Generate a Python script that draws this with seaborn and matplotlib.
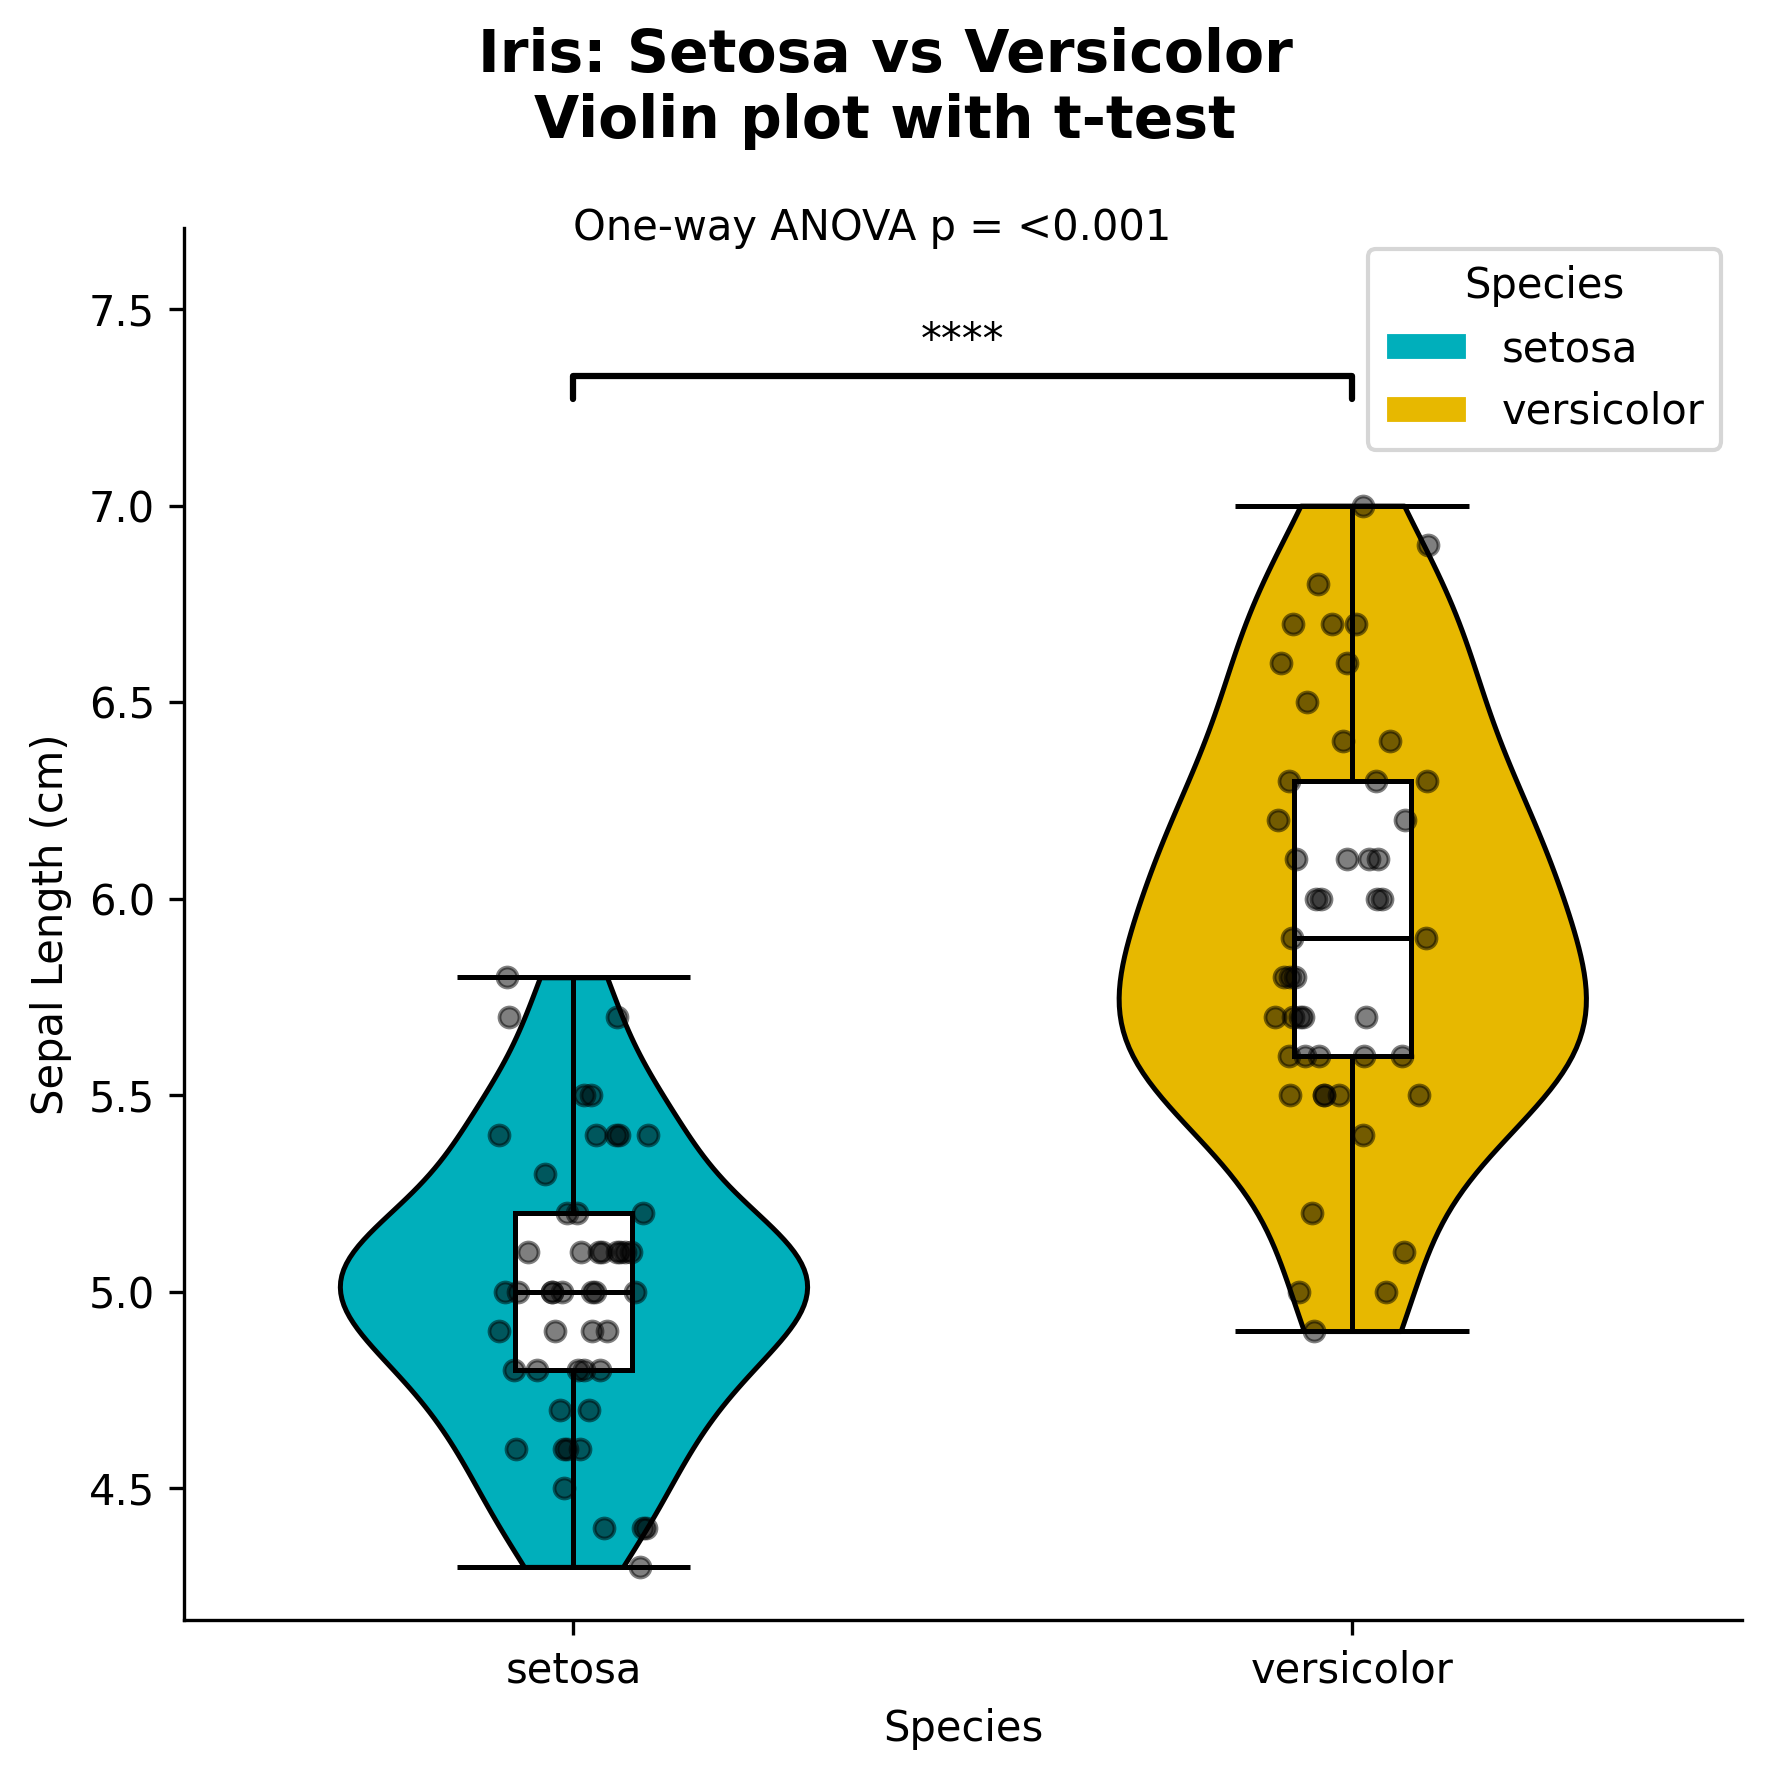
import numpy as np
import pandas as pd
import seaborn as sns
import matplotlib.pyplot as plt
from matplotlib.patches import Patch

# ==============================
# Data (iris sepal length, two species)
# ==============================
species = ["setosa", "versicolor"]
colors = ["#00AFBB", "#E7B800"]

setosa_sl = [5.1, 4.9, 4.7, 4.6, 5.0, 5.4, 4.6, 5.0, 4.4, 4.9,
             5.4, 4.8, 4.8, 4.3, 5.8, 5.7, 5.4, 5.1, 5.7, 5.1,
             5.4, 5.1, 4.6, 5.1, 4.8, 5.0, 5.0, 5.2, 5.2, 4.7,
             4.8, 5.4, 5.2, 5.5, 4.9, 5.0, 5.5, 4.9, 4.4, 5.1,
             5.0, 4.5, 4.4, 5.0, 5.1, 4.8, 5.1, 4.6, 5.3, 5.0]
versicolor_sl = [7.0, 6.4, 6.9, 5.5, 6.5, 5.7, 6.3, 4.9, 6.6, 5.2,
                 5.0, 5.9, 6.0, 6.1, 5.6, 6.7, 5.6, 5.8, 6.2, 5.6,
                 5.9, 6.1, 6.3, 6.1, 6.4, 6.6, 6.8, 6.7, 6.0, 5.7,
                 5.5, 5.5, 5.8, 6.0, 5.4, 6.0, 6.7, 6.3, 5.6, 5.5,
                 5.5, 6.1, 5.8, 5.0, 5.6, 5.7, 5.7, 6.2, 5.1, 5.7]

anova_label = "One-way ANOVA p = <0.001"
sig_label = "****"

df = pd.DataFrame({
    "species": ["setosa"] * len(setosa_sl) + ["versicolor"] * len(versicolor_sl),
    "sepal_length": setosa_sl + versicolor_sl,
})

# ==============================
# Plot
# ==============================
sns.set_style("ticks", rc={
    "text.color": "black", "axes.labelcolor": "black",
    "axes.edgecolor": "black", "xtick.color": "black", "ytick.color": "black",
})
np.random.seed(0)

fig = plt.figure(figsize=(5.9, 5.93), dpi=300)
ax = fig.add_axes([0.104, 0.0894, 0.880, 0.7826])

sns.violinplot(data=df, x="species", y="sepal_length", hue="species",
               palette=colors, order=species, hue_order=species,
               cut=0, inner=None, width=0.6, density_norm="width",
               linecolor="black", linewidth=1.2, saturation=1,
               legend=False, ax=ax)

# min/max bars like matplotlib's violin extrema
stats = df.groupby("species")["sepal_length"].agg(["min", "max"]).loc[species]
for i, (lo, hi) in enumerate(stats.values):
    ax.vlines(i, lo, hi, color="black", lw=1.2, zorder=2)
    ax.hlines([lo, hi], i - 0.15, i + 0.15, color="black", lw=1.2, zorder=2)

sns.boxplot(data=df, x="species", y="sepal_length", order=species,
            width=0.15, whis=0, showfliers=False, showcaps=False,
            saturation=1, linewidth=1.2,
            boxprops=dict(facecolor="white", edgecolor="black", zorder=3),
            medianprops=dict(color="black", zorder=4),
            whiskerprops=dict(visible=False),
            ax=ax)

sns.stripplot(data=df, x="species", y="sepal_length", order=species,
              color="black", alpha=0.5, size=4.8, jitter=0.1,
              linewidth=0.9, edgecolor="black", zorder=5, ax=ax)

# significance bracket
y_br, h = 7.33, 0.06
ax.plot([0, 0, 1, 1], [y_br - h, y_br, y_br, y_br - h], color="black", lw=1.5)
ax.text(0.5, y_br + 0.035, sig_label, ha="center", va="bottom", fontsize=10)

ax.text(0, 7.707, anova_label, ha="left", va="center", fontsize=10)

ax.set_xlim(-0.5, 1.5)
ax.set_ylim(4.165, 7.707)
ax.set_yticks([4.5, 5.0, 5.5, 6.0, 6.5, 7.0, 7.5])
ax.set_xlabel("Species", fontsize=10)
ax.set_ylabel("Sepal Length (cm)", fontsize=10)
sns.despine(ax=ax)

handles = [Patch(facecolor=c, label=s) for c, s in zip(colors, species)]
ax.legend(handles=handles, title="Species", loc="upper right",
          fontsize=10, title_fontsize=10)

fig.suptitle("Iris: Setosa vs Versicolor\nViolin plot with t-test",
             fontsize=14, fontweight="bold", y=0.985, va="top")

fig.savefig("out.png", dpi=300)
